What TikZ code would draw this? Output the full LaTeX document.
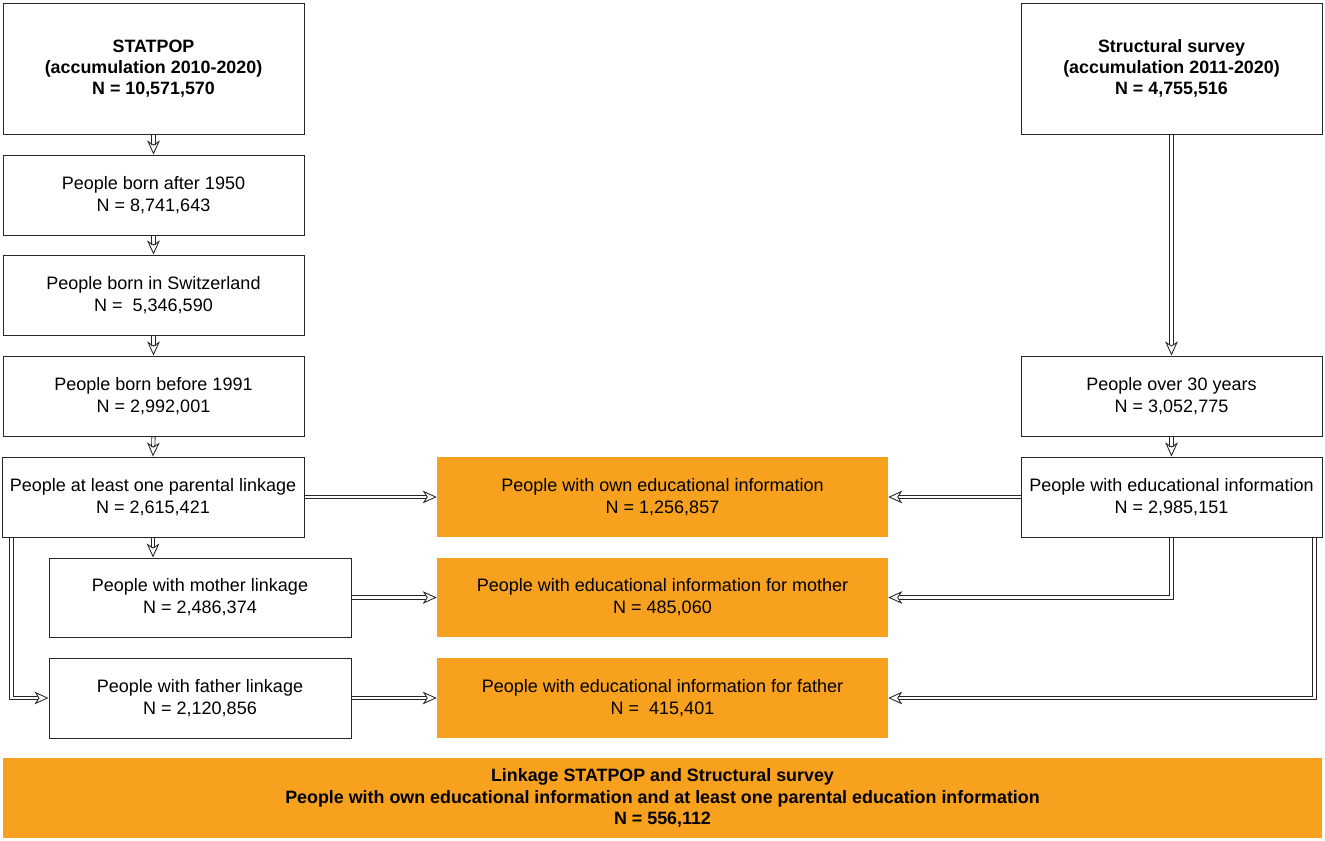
\documentclass[tikz,border=0pt]{standalone}
\usepackage{fontspec}
\setmainfont{Liberation Sans}
\usetikzlibrary{arrows.meta,calc,backgrounds}
\definecolor{orng}{HTML}{F7A11F}
\tikzset{
  x=0.75pt, y=-0.75pt,
  box/.style 2 args={draw=black!85, line width=0.75pt, fill=white, align=center, inner sep=0pt,
     minimum width=#1*0.75pt, minimum height=#2*0.75pt,
     font=\fontsize{13.5}{16.6}\selectfont},
  obox/.style 2 args={fill=orng, align=center, inner sep=0pt,
     minimum width=#1*0.75pt, minimum height=#2*0.75pt,
     font=\fontsize{13.5}{16.6}\selectfont},
  boldtxt/.style={font=\fontsize{13.4}{16}\selectfont\bfseries},
  dbl/.style={draw=black!85, double=white, double distance=1.8pt, line width=0.65pt, shorten >=8pt},
  tiponly/.style={draw=white, line width=0.2pt,
     -{Stealth[open, length=10.5pt, width=9.5pt, inset=3pt, black!85, line width=0.65pt]}},
}
\begin{document}
\begin{tikzpicture}
\useasboundingbox (0,0) rectangle (1325,840);
% left column
\node[box={301}{131}, boldtxt] (stat) at (153.5,68.5)
  {STATPOP\\(accumulation 2010-2020)\\N = 10,571,570};
\node[box={301}{80}] (b1950) at (153.5,195) {People born after 1950\\N = 8,741,643};
\node[box={301}{80}] (bswiss) at (153.5,295) {People born in Switzerland\\N = \ 5,346,590};
\node[box={301}{80}] (b1991) at (153.5,396) {People born before 1991\\N = 2,992,001};
\node[box={302}{80}] (par) at (153,497) {People at least one parental linkage\\N = 2,615,421};
\node[box={302}{79}] (mother) at (200,597.5) {People with mother linkage\\N = 2,486,374};
\node[box={302}{80}] (father) at (200,698) {People with father linkage\\N = 2,120,856};
% middle column
\node[obox={451}{80}] (own) at (662.5,497) {People with own educational information\\N = 1,256,857};
\node[obox={451}{79}] (omother) at (662.5,597.5) {People with educational information for mother\\N = 485,060};
\node[obox={451}{80}] (ofather) at (662.5,698) {People with educational information for father\\N = \ 415,401};
% right column
\node[box={301}{131}, boldtxt] (surv) at (1171.5,68.5)
  {Structural survey\\(accumulation 2011-2020)\\N = 4,755,516};
\node[box={301}{80}] (over) at (1171.5,396) {People over 30 years\\N = 3,052,775};
\node[box={301}{80}] (edu) at (1171.5,497) {People with educational information\\N = 2,985,151};
% final
\node[obox={1319}{80}, boldtxt] (final) at (662.5,798)
  {Linkage STATPOP and Structural survey\\People with own educational information and at least one parental education information\\N = 556,112};
\coordinate (parL) at ($(par.south west)+(10,0)$);
\coordinate (eduR) at ($(edu.south east)+(-8,0)$);
\coordinate (parM) at (par.south);
\begin{scope}[on background layer]
\foreach \a/\b in {stat/b1950, b1950/bswiss, bswiss/b1991, b1991/par}{
  \draw[dbl, shorten >=7pt] (\a.south) -- (\b.north);
  \draw[tiponly] (\a.south) -- (\b.north);
}
\draw[dbl, shorten >=7pt] (parM) -- (parM |- mother.north);
\draw[tiponly] (parM) -- (parM |- mother.north);
\draw[dbl] (parL) |- (father.west);
\draw[tiponly] (parL) |- (father.west);
\draw[dbl] (par.east) -- (own.west);
\draw[tiponly] (par.east) -- (own.west);
\draw[dbl] (mother.east) -- (omother.west);
\draw[tiponly] (mother.east) -- (omother.west);
\draw[dbl] (father.east) -- (ofather.west);
\draw[tiponly] (father.east) -- (ofather.west);
\draw[dbl] (surv.south) -- (over.north);
\draw[tiponly] (surv.south) -- (over.north);
\draw[dbl, shorten >=7pt] (over.south) -- (edu.north);
\draw[tiponly] (over.south) -- (edu.north);
\draw[dbl] (edu.west) -- (own.east);
\draw[tiponly] (edu.west) -- (own.east);
\draw[dbl] (edu.south) |- (omother.east);
\draw[tiponly] (edu.south) |- (omother.east);
\draw[dbl] (eduR) |- (ofather.east);
\draw[tiponly] (eduR) |- (ofather.east);
\end{scope}
\end{tikzpicture}
\end{document}
